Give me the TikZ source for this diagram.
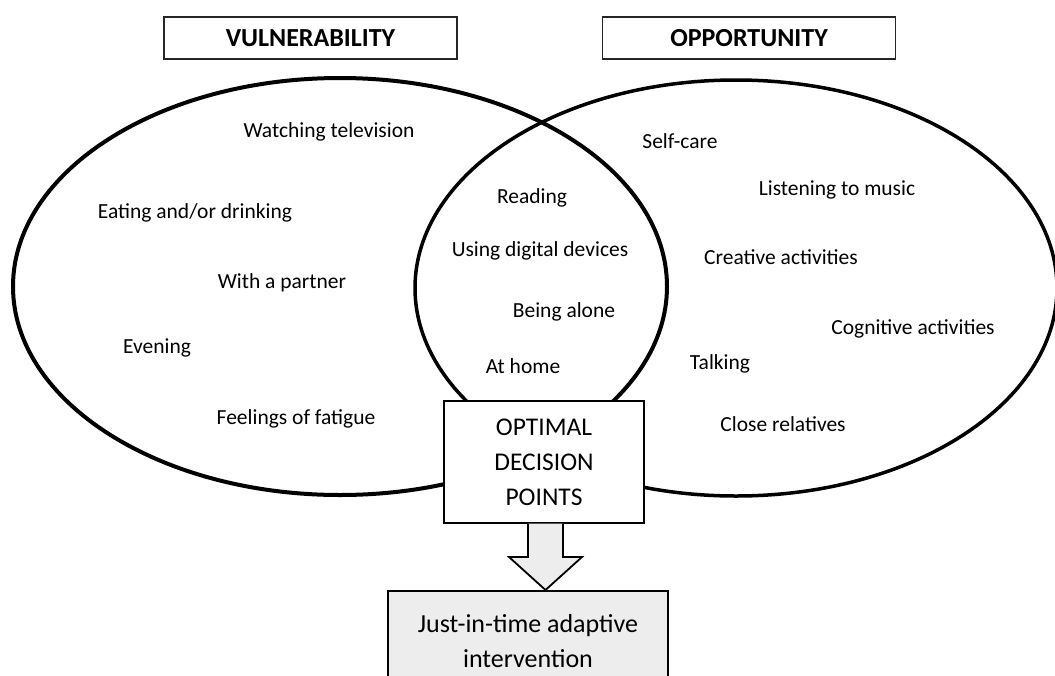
\documentclass[tikz,border=0pt]{standalone}
\usepackage{fontspec}
\setmainfont{Carlito}
\begin{document}
\begin{tikzpicture}[x=1pt,y=-1pt,
  item/.style={font=\fontsize{21.5}{24}\selectfont, inner sep=0pt},
  headbox/.style={draw=black!85, line width=1.8pt, fill=white, minimum width=293pt, minimum height=42pt, font=\fontsize{26}{28}\selectfont\bfseries},
  ring/.style={line width=4pt}
]
\useasboundingbox (0,0) rectangle (1055,675);

% the two overlapping sets
\draw[ring] (340,286.5) ellipse [x radius=327, y radius=208.5];
\draw[ring, line width=3.5pt] (736,288) ellipse [x radius=321, y radius=208];

% headings
\node[headbox] (vul) at (310.5,38) {VULNERABILITY};
\node[headbox] (opp) at (749,38) {OPPORTUNITY};

% vulnerability items
\node[item] (tv)  at (329,132) {Watching television};
\node[item] (eat) at (195,213) {Eating and/or drinking};
\node[item] (par) at (282,283) {With a partner};
\node[item] (eve) at (157,348) {Evening};
\node[item] (fat) at (296,419) {Feelings of fatigue};

% shared items
\node[item] (rea) at (532,198) {Reading};
\node[item] (dig) at (540,251) {Using digital devices};
\node[item] (alo) at (564,312) {Being alone};
\node[item] (hom) at (523,366) {At home};

% opportunity items
\node[item] (sc)  at (680,141) {Self-care};
\node[item] (mus) at (837,190) {Listening to music};
\node[item] (cre) at (781,257) {Creative activities};
\node[item] (cog) at (913,329) {Cognitive activities};
\node[item] (tal) at (720,364) {Talking};
\node[item] (rel) at (783,424) {Close relatives};

% decision box
\node[draw, line width=1.4pt, fill=white, minimum width=200pt, minimum height=122pt,
      align=center, font=\fontsize{25.5}{35}\selectfont] (odp) at (544,462)
      {OPTIMAL\\DECISION\\POINTS};

% outcome box
\node[draw, line width=2pt, fill=black!7, minimum width=280pt, minimum height=100pt,
      anchor=north, align=center, font=\fontsize{26}{35}\selectfont] (jit) at (528,590)
      {Just-in-time adaptive\\intervention};

% block arrow from decision points to intervention
\draw[line width=1.8pt, fill=black!7, line join=miter]
  (odp.south -| 528,0) -- (528,557) -- (509,557) -- (jit.north -| 545.5,0)
  -- (582,557) -- (563,557) -- (odp.south -| 563,0);
\end{tikzpicture}
\end{document}
